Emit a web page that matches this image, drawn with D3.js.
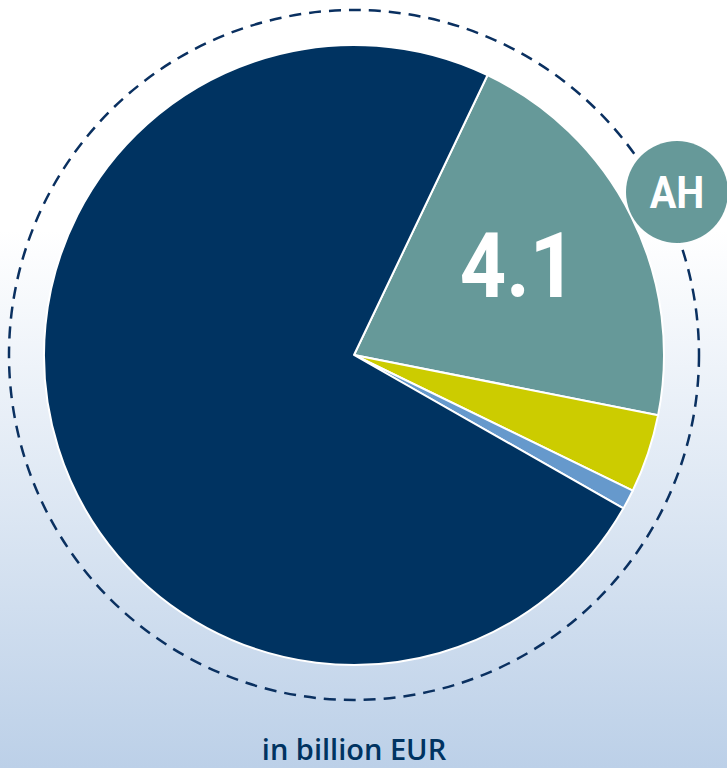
<!DOCTYPE html>
<html><head><meta charset="utf-8">
<script src="https://cdn.jsdelivr.net/npm/d3@7"></script>
<style>html,body{margin:0;padding:0;background:#fff;}svg{display:block;}</style>
</head><body>
<script>
const categories = ["AH", "Other 1", "Other 2", "Main"];
const values = [4.1, 0.8, 0.2, 14.4];
const colors = ["#669999", "#cccc00", "#6699cc", "#003361"];
const labelText = "4.1";
const badgeText = "AH";
const unitText = "in billion EUR";

const W = 727, H = 768;
const cx = 354, cy = 355, R = 310, Rd = 345;
const svg = d3.select("body").append("svg").attr("width", W).attr("height", H);
const defs = svg.append("defs");
const g = defs.append("linearGradient").attr("id","bg").attr("x1",0).attr("x2",0).attr("y1",0).attr("y2",1);
g.append("stop").attr("offset","0.3").attr("stop-color","#ffffff");
g.append("stop").attr("offset","1").attr("stop-color","#bcd0e8");
svg.append("rect").attr("width",W).attr("height",H).attr("fill","url(#bg)");

const root = svg.append("g").attr("transform",`translate(${cx},${cy})`);
root.append("circle").attr("r",Rd).attr("fill","none").attr("stroke","#0a3060")
  .attr("stroke-width",2.5).attr("stroke-dasharray","12 8");

const startA = 25.5 * Math.PI/180;
const pie = d3.pie().sort(null).value(d=>d).startAngle(startA).endAngle(startA + 2*Math.PI);
const arcs = pie(values);
const arc = d3.arc().innerRadius(0).outerRadius(R);
root.selectAll("path.s").data(arcs).join("path").attr("class","s")
  .attr("d",arc).attr("fill",(d,i)=>colors[i]).attr("stroke","#fff").attr("stroke-width",2).attr("stroke-linejoin","round");

svg.append("g").attr("transform","translate(518,297) scale(0.9,1)")
  .append("text").attr("text-anchor","middle")
  .attr("font-family","Roboto, sans-serif").attr("font-weight",700).attr("font-size",90)
  .attr("fill","#fff").text(labelText);

svg.append("circle").attr("cx",677).attr("cy",192).attr("r",51).attr("fill","#669999");
svg.append("g").attr("transform","translate(677,208) scale(0.9,1)")
  .append("text").attr("text-anchor","middle")
  .attr("font-family","Roboto, sans-serif").attr("font-weight",700).attr("font-size",44)
  .attr("fill","#fff").text(badgeText);

svg.append("text").attr("x",354).attr("y",760).attr("text-anchor","middle")
  .attr("font-family","'Open Sans', sans-serif").attr("font-weight",600).attr("font-size",29)
  .attr("fill","#003361").text(unitText);
</script>
</body></html>
